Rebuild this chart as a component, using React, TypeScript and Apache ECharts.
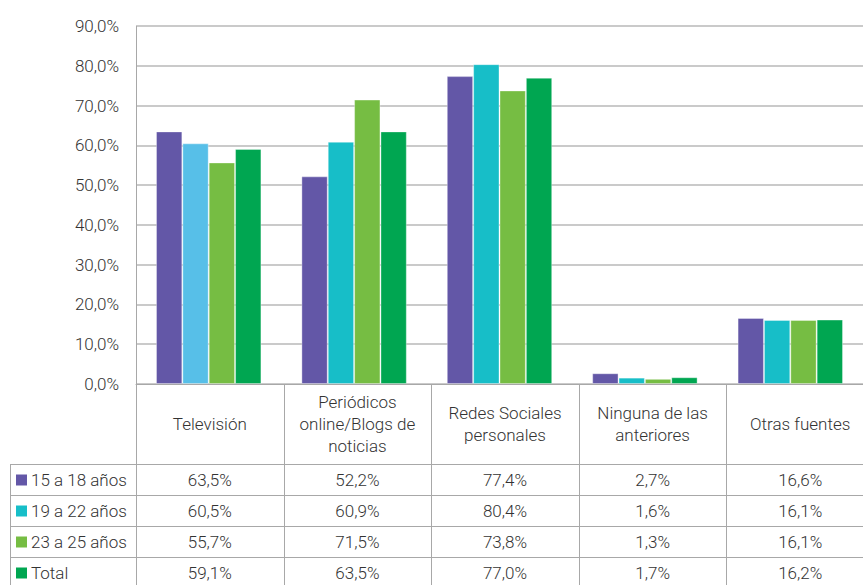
import React, { useEffect, useRef } from "react";
import * as echarts from "echarts";

const categories = [
  "Televisión",
  "Periódicos\nonline/Blogs de\nnoticias",
  "Redes Sociales\npersonales",
  "Ninguna de las\nanteriores",
  "Otras fuentes",
];
const seriesNames = ["15 a 18 años", "19 a 22 años", "23 a 25 años", "Total"];
const s15a18 = [63.5, 52.2, 77.4, 2.7, 16.6];
const s19a22 = [60.5, 60.9, 80.4, 1.6, 16.1];
const s23a25 = [55.7, 71.5, 73.8, 1.3, 16.1];
const sTotal = [59.1, 63.5, 77.0, 1.7, 16.2];
const seriesColors = ["#6357A7", "#17BEC8", "#76BD43", "#00A651"];
const tvHighlightColor = "#57BFE8";
const yTicks = [0, 10, 20, 30, 40, 50, 60, 70, 80, 90];

const W = 863;
const H = 585;
const GL = 136;
const GR = -11;
const GT = 26;
const AXIS_Y = 384;
const FONT = "Roboto";
const FW = 300;
const TXT = "#333333";
const LINE = "#a8a8a8";

const fmt = (v: number) => v.toFixed(1).replace(".", ",") + "%";

export default function App() {
  const ref = useRef<HTMLDivElement>(null);
  useEffect(() => {
    if (!ref.current) return;
    const chart = echarts.init(ref.current, null, { renderer: "svg" });
    const data = [s15a18, s19a22, s23a25, sTotal];
    const gridW = W - GL - GR;
    const colW = gridW / categories.length;
    const rowTops = [464.5, 495.5, 526.5, 557.5];
    const rowH = 31;
    const font = `${FW} 17px ${FONT}`;

    const graphics: any[] = [];
    graphics.push({
      type: "line",
      shape: { x1: GL + 0.5, y1: GT, x2: GL + 0.5, y2: H },
      style: { stroke: LINE, lineWidth: 1 },
      z: 10,
    });
    graphics.push({
      type: "line",
      shape: { x1: 10.5, y1: rowTops[0], x2: 10.5, y2: H },
      style: { stroke: LINE, lineWidth: 1 },
      z: 10,
    });
    for (let i = 1; i <= categories.length; i++) {
      const x = Math.round(GL + colW * i) + 0.5;
      graphics.push({
        type: "line",
        shape: { x1: x, y1: AXIS_Y, x2: x, y2: H },
        style: { stroke: LINE, lineWidth: 1 },
        z: 10,
      });
    }
    rowTops.forEach((y) => {
      graphics.push({
        type: "line",
        shape: { x1: 10, y1: y, x2: W, y2: y },
        style: { stroke: LINE, lineWidth: 1 },
        z: 10,
      });
    });
    categories.forEach((c, i) => {
      graphics.push({
        type: "text",
        x: GL + colW * (i + 0.5),
        y: 424,
        style: {
          text: c,
          font,
          fill: TXT,
          align: "center",
          verticalAlign: "middle",
          lineHeight: 22,
        },
        z: 11,
      });
    });
    seriesNames.forEach((name, r) => {
      const cy = rowTops[r] + rowH / 2;
      graphics.push({
        type: "rect",
        shape: { x: 16, y: cy - 5.5, width: 11, height: 11 },
        style: { fill: seriesColors[r] },
        z: 11,
      });
      graphics.push({
        type: "text",
        x: 31,
        y: cy,
        style: {
          text: name,
          font,
          fill: TXT,
          align: "left",
          verticalAlign: "middle",
        },
        z: 11,
      });
      data[r].forEach((v, i) => {
        graphics.push({
          type: "text",
          x: GL + colW * (i + 0.5),
          y: cy,
          style: {
            text: fmt(v),
            font,
            fill: TXT,
            align: "center",
            verticalAlign: "middle",
          },
          z: 11,
        });
      });
    });

    chart.setOption({
      animation: false,
      grid: { left: GL, right: GR, top: GT, bottom: H - AXIS_Y, containLabel: false },
      xAxis: {
        type: "category",
        data: categories,
        axisLabel: { show: false },
        axisTick: { show: false },
        axisLine: { show: true, lineStyle: { color: LINE, width: 1 } },
        splitLine: { show: false },
      },
      yAxis: {
        type: "value",
        min: yTicks[0],
        max: yTicks[yTicks.length - 1],
        interval: 10,
        axisLine: { show: false },
        axisTick: { show: false },
        axisLabel: {
          formatter: (v: number) => fmt(v),
          fontFamily: FONT,
          fontWeight: FW,
          fontSize: 17,
          color: TXT,
          margin: 17,
        },
        splitLine: { show: true, lineStyle: { color: "#b8b8b8", width: 1.5 } },
      },
      series: seriesNames.map((name, r) => ({
        name,
        type: "bar",
        barGap: "0%",
        barCategoryGap: "27.5%",
        itemStyle: {
          color: seriesColors[r],
          borderColor: "rgba(255,255,255,0.35)",
          borderWidth: 1,
        },
        data: data[r].map((v, i) =>
          r === 1 && i === 0
            ? { value: v, itemStyle: { color: tvHighlightColor } }
            : v
        ),
      })),
      graphic: graphics,
    });
    return () => chart.dispose();
  }, []);
  return (
    <div
      ref={ref}
      style={{ position: "absolute", left: 0, top: 0, width: W, height: H, background: "#fff" }}
    />
  );
}
